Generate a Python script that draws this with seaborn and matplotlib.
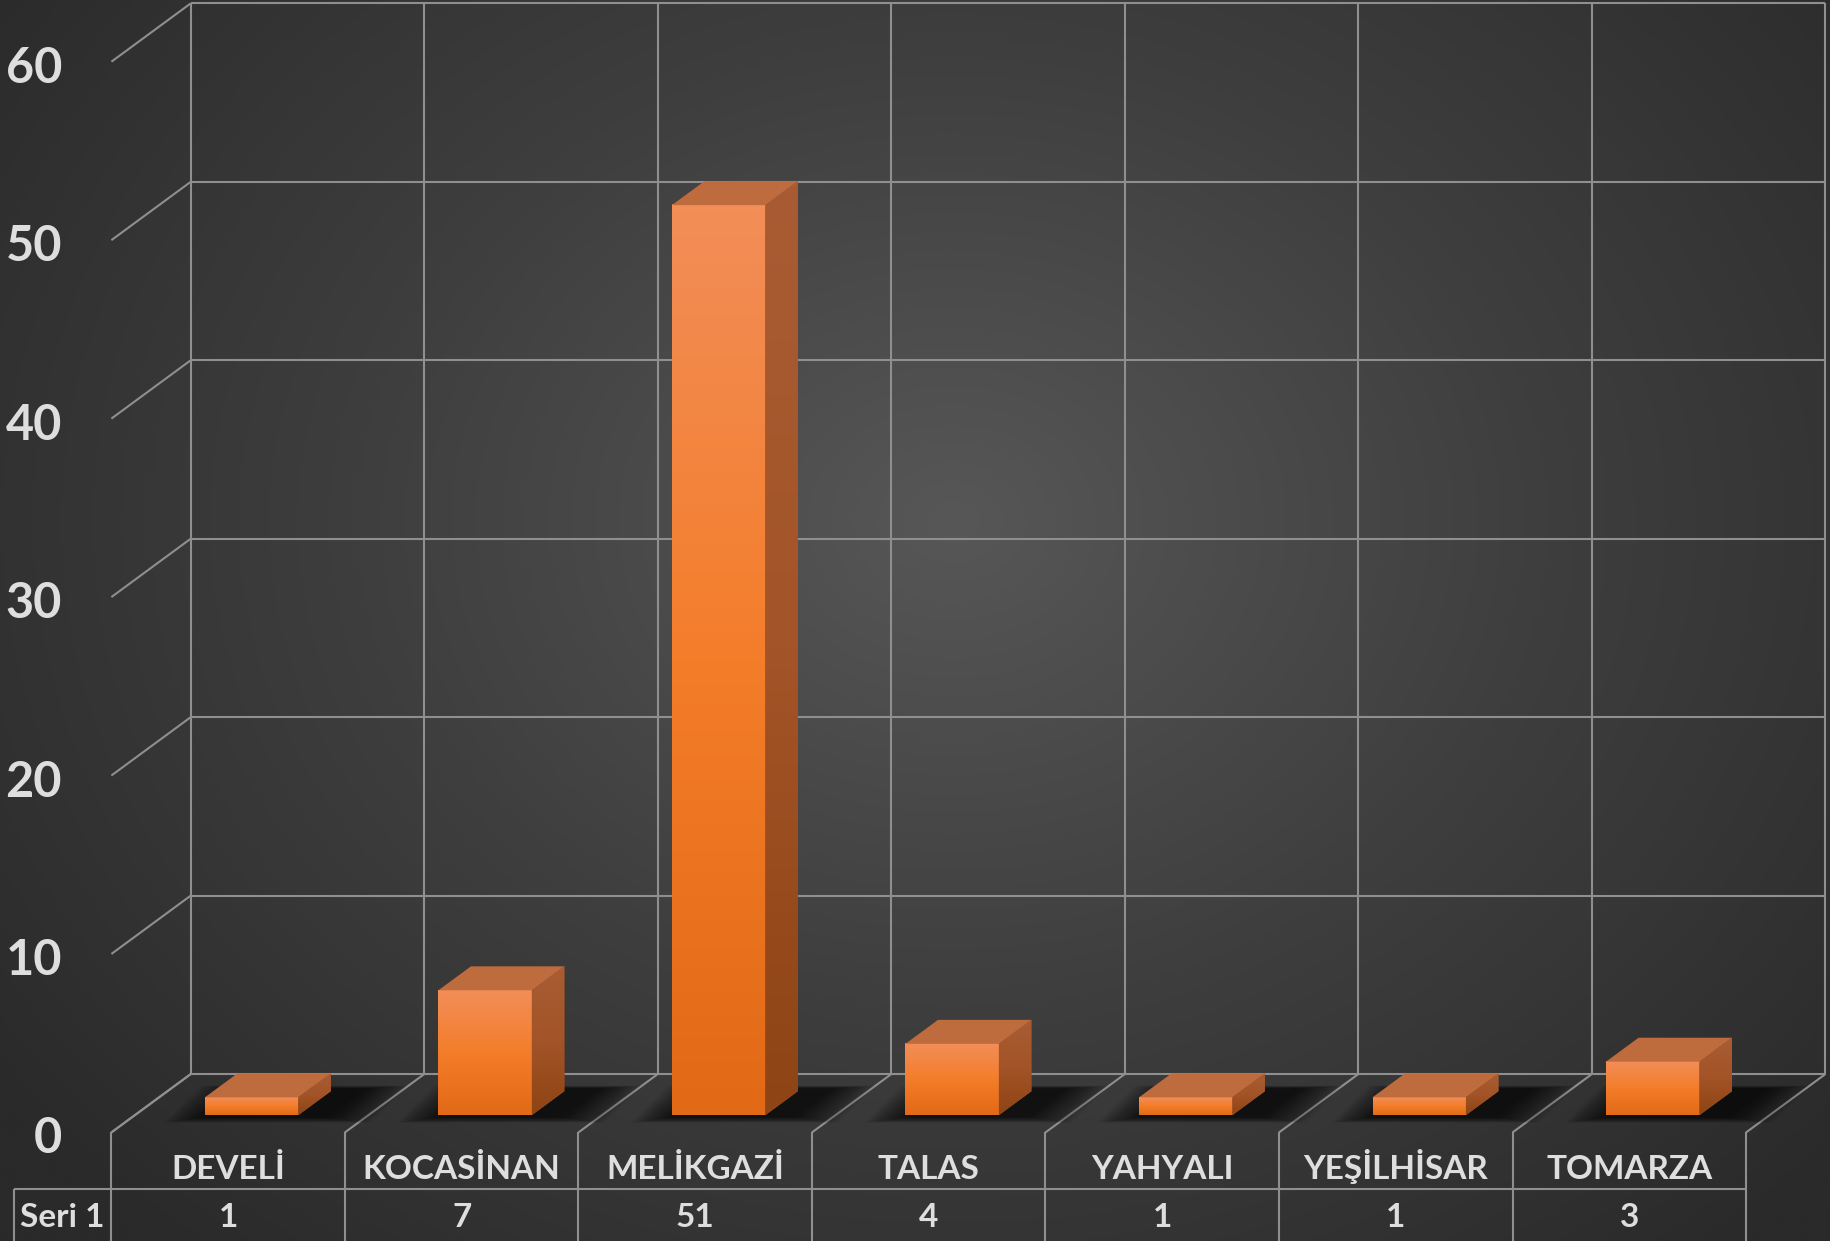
import numpy as np
import matplotlib
matplotlib.use('Agg')
import matplotlib.pyplot as plt
import seaborn as sns
from matplotlib.patches import Polygon
from matplotlib.colors import LinearSegmentedColormap

# ---------------- data ----------------
categories = ['DEVELİ', 'KOCASİNAN', 'MELİKGAZİ', 'TALAS', 'YAHYALI', 'YEŞİLHİSAR', 'TOMARZA']
values = [1, 7, 51, 4, 1, 1, 3]
series_name = 'Seri 1'
yticks = [0, 10, 20, 30, 40, 50, 60]

# ---------------- style ----------------
sns.set_theme(style='white')
plt.rcParams['font.family'] = ['Lato', 'DejaVu Sans']

W, H = 1831, 1241
fig = plt.figure(figsize=(W / 100, H / 100), dpi=100)

# background radial gradient
bg = fig.add_axes([0, 0, 1, 1], zorder=0)
yy, xx = np.mgrid[0:H:3, 0:W:3]
cx, cy = 0.52 * W, 0.42 * H
r = np.sqrt(((xx - cx) / (0.65 * W)) ** 2 + ((yy - cy) / (0.78 * H)) ** 2)
r = np.clip(r, 0, 1)
bg_cmap = LinearSegmentedColormap.from_list('bg', ['#575757', '#3e3e3e', '#2a2a2a'])
bg.imshow(r, cmap=bg_cmap, vmin=0, vmax=1, extent=(0, 1, 0, 1), aspect='auto', origin='upper')
bg.axis('off')

# main axes (plane of the bars' front faces)
AX_B = 0.10137
AX_H = 0.86277
ax = fig.add_axes([134.8 / W, AX_B, (1769.5 - 134.8) / W, AX_H], zorder=1)
ax.patch.set_visible(False)
sns.barplot(x=categories, y=values, ax=ax, width=0.4, color='#F47F2C',
            saturation=1, edgecolor='none', linewidth=0, zorder=6)
bars = list(ax.patches)

n = len(categories)
YMAX = 60
px_x = (1769.5 - 134.8) / n          # pixels per category unit
px_y = AX_H * H / YMAX               # pixels per value unit
DX = 79.4 / px_x                     # full floor depth in data units
DY = 58.4 / px_y
D0 = 0.295                           # depth of bar front faces
D1 = 0.705                           # depth of bar back faces


def P(x, v, d):
    return (x + (d - D0) * DX, v + (d - D0) * DY)


def vy(pix_from_top):
    return (H - pix_from_top - AX_B * H) / px_y


def vx(pix_from_left):
    return (pix_from_left - 134.8) / px_x - 0.5


def line(p, q, **kw):
    ax.plot([p[0], q[0]], [p[1], q[1]], **kw)


gc = '#8f8f8f'
glw = 1.5
gkw = dict(color=gc, lw=glw, clip_on=False, zorder=1, solid_capstyle='butt')

# back wall grid + left wall tick diagonals
for v in yticks:
    line(P(-0.5, v, 1), P(n - 0.5, v, 1), **gkw)
    line(P(-0.5, v, 0), P(-0.5, v, 1), **gkw)
for k in range(n + 1):
    line(P(k - 0.5, 0, 1), P(k - 0.5, YMAX, 1), **gkw)
    line(P(k - 0.5, 0, 0), P(k - 0.5, 0, 1), **gkw)

# data table lines
v_front = P(0, 0, 0)[1]
v_bottom = vy(H + 20)
v_hline = vy(1188.7)
x_tab_left = vx(14)
for k in range(n + 1):
    x = P(k - 0.5, 0, 0)[0]
    line((x, v_front), (x, v_bottom), **gkw)
line((x_tab_left, v_hline), (P(n - 0.5, 0, 0)[0], v_hline), **gkw)
line((x_tab_left, v_hline), (x_tab_left, v_bottom), **gkw)

# 3D bars: shadows, sides, tops, front gradients
front_cmap = LinearSegmentedColormap.from_list('front', ['#E26A17', '#F47D2A', '#F28E58'])
side_cmap = LinearSegmentedColormap.from_list('side', ['#8E4414', '#A35428', '#A95C33'])
top_color = '#BE6B3E'

for p in bars:
    x0, w, h = p.get_x(), p.get_width(), p.get_height()
    x1 = x0 + w
    # soft shadow on the floor
    nl = 18
    for i in range(nl):
        e = 0.011 * (nl - i)
        ey = e * 1.8
        poly = [P(x0 - e + 0.03, -ey, D0 - 0.02), P(x1 + e + 0.12, -ey, D0 - 0.02),
                P(x1 + e + 0.12, ey * 0.5, D1 + 0.04), P(x0 - e + 0.03, ey * 0.5, D1 + 0.04)]
        ax.add_patch(Polygon(poly, closed=True, facecolor='black', alpha=0.05,
                             edgecolor='none', zorder=2, clip_on=False))
    # front face gradient
    grad = np.linspace(0, 1, 128).reshape(-1, 1)
    ax.imshow(grad, cmap=front_cmap, extent=(x0, x1, 0, h), aspect='auto',
              origin='lower', zorder=7, interpolation='bilinear')
    # side face
    side = Polygon([P(x1, 0, D0), P(x1, 0, D1), P(x1, h, D1), P(x1, h, D0)],
                   closed=True, facecolor='#A0522A', edgecolor='none', zorder=7)
    ax.add_patch(side)
    sx0, sy0 = P(x1, 0, D0)
    sx1, sy1 = P(x1, h, D1)
    im = ax.imshow(grad, cmap=side_cmap, extent=(sx0, sx1, sy0, sy1), aspect='auto',
                   origin='lower', zorder=7.5, interpolation='bilinear')
    im.set_clip_path(side)
    # top face
    top = Polygon([P(x0, h, D0), P(x1, h, D0), P(x1, h, D1), P(x0, h, D1)],
                  closed=True, facecolor=top_color, edgecolor='none', zorder=8)
    ax.add_patch(top)

# text
tc = '#DEDEDE'
fs_tick = 35
fs_lab = 24
x_ylab = vx(62)
for v in yticks:
    ax.text(x_ylab, P(-0.5, v, 0)[1] - 21 / px_y, str(v), ha='right', va='baseline',
            fontsize=fs_tick, fontweight='bold', color=tc, clip_on=False)

v_cat = vy(1179)
v_val = vy(1227)
for k, (c, val) in enumerate(zip(categories, values)):
    xc = P(k, 0, 0)[0]
    ax.text(xc, v_cat, c, ha='center', va='baseline', fontsize=fs_lab,
            fontweight='bold', color=tc, clip_on=False)
    ax.text(xc, v_val, str(val), ha='center', va='baseline', fontsize=fs_lab,
            fontweight='bold', color=tc, clip_on=False)
x_seri = (x_tab_left + P(-0.5, 0, 0)[0]) / 2
ax.text(x_seri, v_val, series_name, ha='center', va='baseline', fontsize=fs_lab,
        fontweight='bold', color=tc, clip_on=False)

ax.set_xlim(-0.5, n - 0.5)
ax.set_ylim(0, YMAX)
ax.axis('off')

fig.savefig('out.png', dpi=100)
